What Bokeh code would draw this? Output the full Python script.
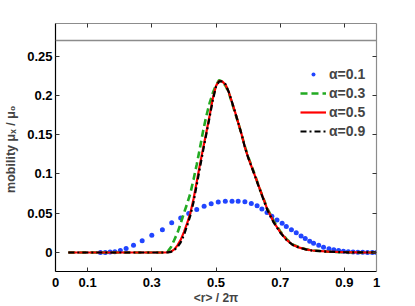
from bokeh.plotting import figure
from bokeh.models import Range1d, LinearAxis, FixedTicker, Span, Legend, LegendItem
from bokeh.embed import file_html
from bokeh.resources import INLINE

# ---------------- data ----------------
x_ticks = [0, 0.1, 0.3, 0.5, 0.7, 0.9, 1.0]
x_tick_labels = ["0", "0.1", "0.3", "0.5", "0.7", "0.9", "1"]
y_ticks = [0, 0.05, 0.1, 0.15, 0.2, 0.25]
y_tick_labels = ["0", "0.05", "0.1", "0.15", "0.2", "0.25"]
ref_level = 0.27

# alpha = 0.1 (dots)
x_a01 = [0.14, 0.155, 0.17, 0.185, 0.202, 0.22, 0.243, 0.27, 0.30, 0.333,
         0.362, 0.39, 0.415, 0.44, 0.463, 0.485, 0.507, 0.529, 0.55, 0.569,
         0.59, 0.61, 0.628, 0.643, 0.659, 0.674, 0.69, 0.706, 0.719, 0.735,
         0.75, 0.765, 0.778, 0.792, 0.804, 0.82, 0.835, 0.852, 0.867, 0.882,
         0.897, 0.912, 0.927, 0.942, 0.957, 0.972, 0.987, 1.0]
y_a01 = [0.0, 0.0, 0.0005, 0.001, 0.0025, 0.005, 0.0093, 0.0148, 0.0218, 0.029,
         0.0377, 0.044, 0.0495, 0.0547, 0.0589, 0.062, 0.0644, 0.0652, 0.0653, 0.0652,
         0.0645, 0.0623, 0.0595, 0.0555, 0.051, 0.0462, 0.0415, 0.0373, 0.033, 0.0288,
         0.025, 0.021, 0.0178, 0.0144, 0.0118, 0.0093, 0.0068, 0.0047, 0.0034, 0.0024,
         0.0016, 0.001, 0.0006, 0.0004, 0.0002, 0.0001, 0.0, 0.0]

x_curve = [0.04, 0.10, 0.20, 0.30, 0.34, 0.35, 0.36, 0.37, 0.38, 0.39,
           0.40, 0.41, 0.42, 0.43, 0.44, 0.45, 0.46, 0.47, 0.48, 0.49,
           0.50, 0.51, 0.52, 0.53, 0.54, 0.55, 0.56, 0.57, 0.58, 0.59,
           0.60, 0.62, 0.64, 0.66, 0.68, 0.70, 0.72, 0.74, 0.76, 0.78,
           0.80, 0.85, 0.90, 0.95, 1.00]

y_a03 = [0.0, 0.0, 0.0, 0.0, 0.0, 0.0015, 0.007, 0.016, 0.025, 0.037,
         0.050, 0.062, 0.075, 0.093, 0.112, 0.133, 0.155, 0.174, 0.190, 0.203,
         0.213, 0.2195, 0.2175, 0.212, 0.203, 0.190, 0.177, 0.164, 0.150, 0.135,
         0.122, 0.100, 0.077, 0.056, 0.040, 0.027, 0.017, 0.010, 0.0065, 0.0042,
         0.0026, 0.001, 0.0003, 0.0001, 0.0]

y_a05 = [0.0, 0.0, 0.0, 0.0, 0.0, 0.0003, 0.0012, 0.004, 0.009, 0.016,
         0.026, 0.037, 0.050, 0.068, 0.090, 0.112, 0.133, 0.153, 0.174, 0.196,
         0.212, 0.2186, 0.2175, 0.2135, 0.204, 0.191, 0.178, 0.164, 0.150, 0.134,
         0.121, 0.099, 0.077, 0.055, 0.0385, 0.026, 0.016, 0.0095, 0.0062, 0.004,
         0.0025, 0.001, 0.0003, 0.0001, 0.0]

y_a09 = [0.0, 0.0, 0.0, 0.0, 0.0, 0.0002, 0.0008, 0.003, 0.007, 0.013,
         0.022, 0.034, 0.047, 0.064, 0.086, 0.108, 0.130, 0.151, 0.172, 0.194,
         0.211, 0.218, 0.2178, 0.214, 0.204, 0.191, 0.178, 0.164, 0.150, 0.134,
         0.121, 0.099, 0.076, 0.054, 0.038, 0.0255, 0.0157, 0.0093, 0.006, 0.0039,
         0.0024, 0.001, 0.0003, 0.0001, 0.0]

legend_labels = ["α=0.1", "α=0.3", "α=0.5", "α=0.9"]

# ---------------- figure ----------------
FONT = "Liberation Sans"

p = figure(frame_width=321, frame_height=248, output_backend="svg",
           toolbar_location=None,
           x_range=Range1d(0, 1), y_range=Range1d(-0.0242, 0.2915),
           min_border_left=55, min_border_right=30, min_border_top=23,
           min_border_bottom=33)
p.outline_line_color = None
p.xgrid.visible = False
p.ygrid.visible = False
p.background_fill_color = "white"
p.border_fill_color = "white"


def style_axis(ax, line_color, ticks, labels=None, show_labels=True):
    ax.ticker = FixedTicker(ticks=ticks)
    ax.axis_line_color = line_color
    ax.axis_line_width = 1.2
    ax.major_tick_in = 4
    ax.major_tick_out = 0
    ax.minor_tick_in = 0
    ax.minor_tick_out = 0
    ax.major_tick_line_color = "#333333"
    ax.major_tick_line_width = 1
    if show_labels:
        ax.major_label_overrides = dict(zip(ticks, labels))
        ax.major_label_text_font = FONT
        ax.major_label_text_font_style = "bold"
        ax.major_label_text_font_size = "13px"
        ax.major_label_text_color = "black"
    else:
        ax.major_label_text_font_size = "0px"
        ax.major_label_text_alpha = 0
        ax.major_label_standoff = 0


xa = p.xaxis[0]
style_axis(xa, "black", x_ticks, x_tick_labels)
xa.major_label_standoff = 6
xa.axis_label = "<r> / 2π"
xa.axis_label_text_font = FONT
xa.axis_label_text_font_style = "bold"
xa.axis_label_text_font_size = "12px"
xa.axis_label_standoff = 1

ya = p.yaxis[0]
style_axis(ya, "black", y_ticks, y_tick_labels)
ya.major_label_standoff = 3
ya.axis_label = "mobility  μₓ / μ₀"
ya.axis_label_text_font = FONT
ya.axis_label_text_font_style = "bold"
ya.axis_label_text_font_size = "12.5px"
ya.axis_label_standoff = 6

top = LinearAxis()
style_axis(top, "#8c8c8c", x_ticks[1:-1], show_labels=False)
p.add_layout(top, "above")

right = LinearAxis()
style_axis(right, "#8c8c8c", y_ticks, show_labels=False)
p.add_layout(right, "right")

p.add_layout(Span(location=ref_level, dimension="width",
                  line_color="#8c8c8c", line_width=1.5))

# ---------------- glyphs ----------------
BLUE = "#2145ff"
r1 = p.scatter(x_a01, y_a01, marker="circle", size=5,
               fill_color=BLUE, line_color=BLUE, line_width=0)
r3 = p.line(x_curve, y_a03, line_color="#22aa22", line_width=2.6,
            line_dash="7 4")
r5 = p.line(x_curve, y_a05, line_color="#ff0000", line_width=2.2)
r9 = p.line(x_curve, y_a09, line_color="black", line_width=2.2,
            line_dash="6 3 2 3")

legend = Legend(items=[LegendItem(label=legend_labels[0], renderers=[r1]),
                       LegendItem(label=legend_labels[1], renderers=[r3]),
                       LegendItem(label=legend_labels[2], renderers=[r5]),
                       LegendItem(label=legend_labels[3], renderers=[r9])],
                location=(245, 131))
legend.background_fill_alpha = 0
legend.border_line_color = None
legend.padding = 0
legend.margin = 0
legend.spacing = 0
legend.label_height = 19
legend.glyph_height = 10
legend.glyph_width = 26
legend.label_standoff = 3
legend.label_text_font = FONT
legend.label_text_font_style = "bold"
legend.label_text_font_size = "14px"
p.add_layout(legend)

open("out.html", "w").write(file_html(p, INLINE))
